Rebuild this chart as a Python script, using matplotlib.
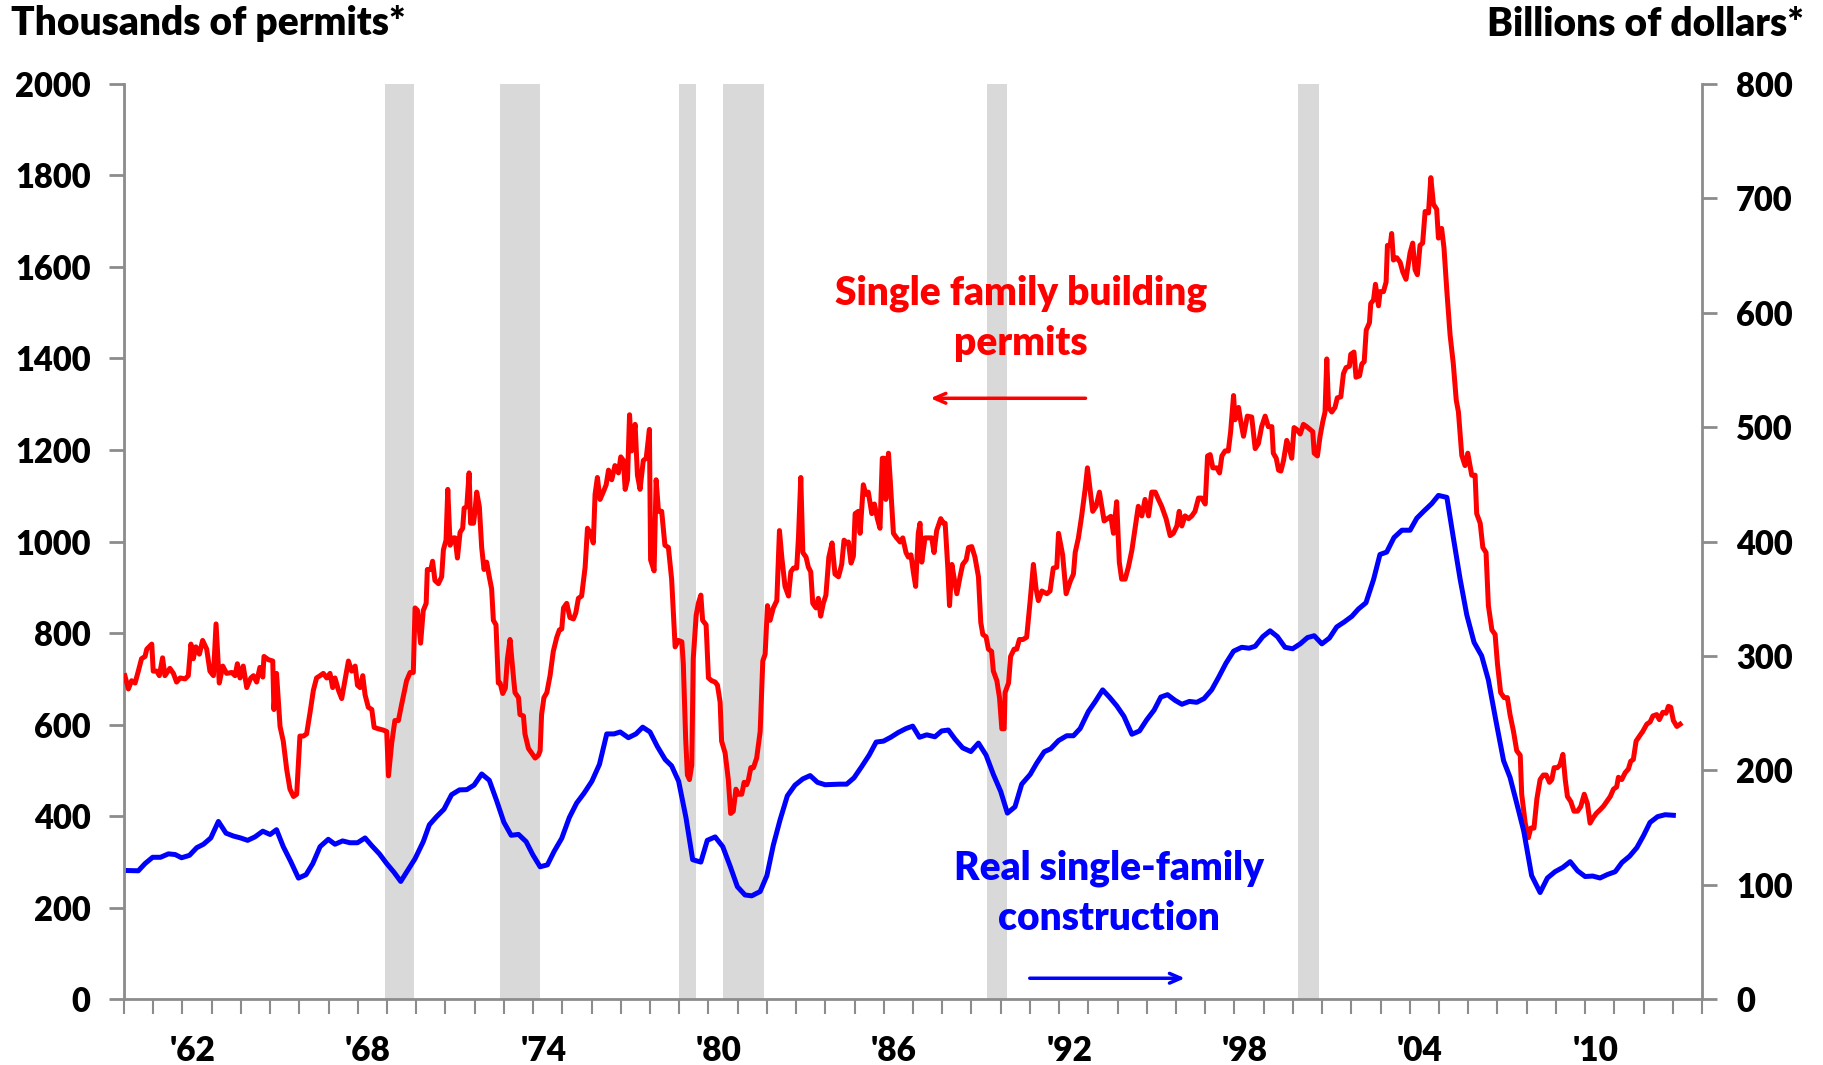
import matplotlib
matplotlib.use("Agg")
import matplotlib.pyplot as plt
import numpy as np

# ---------------- data ----------------
permit_years = [
    1961.03,1961.15,1961.26,1961.38,1961.49,1961.60,1961.72,1961.78,1961.95,1962.00,1962.12,1962.21,1962.32,1962.40,1962.57,1962.69,1962.80,1962.92,1963.09,1963.20,
    1963.29,1963.37,1963.46,1963.58,1963.69,1963.83,1963.94,1964.06,1964.15,1964.26,1964.38,1964.51,1964.69,1964.80,1964.88,1964.97,1965.08,1965.20,1965.34,1965.43,
    1965.54,1965.65,1965.75,1965.79,1965.94,1966.09,1966.13,1966.22,1966.34,1966.45,1966.57,1966.68,1966.80,1966.91,1967.02,1967.14,1967.25,1967.37,1967.48,1967.59,
    1967.71,1967.82,1967.94,1968.05,1968.14,1968.22,1968.34,1968.45,1968.56,1968.68,1968.79,1968.91,1968.99,1969.08,1969.17,1969.25,1969.36,1969.48,1969.56,1969.70,
    1969.88,1969.99,1970.05,1970.16,1970.27,1970.39,1970.50,
    1970.67,1970.79,1970.90,1970.96,1971.04,1971.15,1971.24,1971.34,1971.38,1971.50,1971.56,1971.64,1971.76,1971.87,1971.93,1972.02,1972.08,1972.16,1972.27,1972.33,
    1972.41,1972.50,1972.59,1972.64,1972.73,1972.81,1972.86,1972.96,1973.01,1973.07,1973.16,1973.24,1973.32,1973.41,1973.50,1973.58,1973.64,1973.73,1973.81,1973.87,
    1973.96,1974.05,1974.12,1974.21,1974.33,1974.38,1974.50,1974.55,1974.67,1974.72,1974.84,1974.95,1975.07,1975.18,1975.24,1975.29,1975.37,1975.47,1975.58,1975.69,
    1975.81,1975.90,1975.98,1976.04,1976.15,1976.26,1976.38,1976.46,1976.55,1976.66,1976.78,1976.86,1976.97,1977.06,1977.12,1977.20,1977.29,1977.40,1977.50,1977.58,
    1977.69,1977.80,1977.92,1978.00,1978.09,1978.15,1978.23,1978.30,1978.37,1978.49,1978.57,1978.66,1978.77,1978.87,1978.98,1979.02,1979.14,1979.21,1979.29,1979.40,
    1979.51,1979.63,1979.74,1979.86,1979.97,1980.09,1980.14,1980.22,
    1980.28,1980.35,1980.43,1980.48,1980.58,1980.655,1980.74,1980.80,1980.92,1981.00,1981.11,1981.23,1981.31,1981.40,1981.45,1981.57,1981.68,1981.76,1981.85,1981.94,
    1982.02,1982.14,1982.22,1982.31,1982.37,1982.45,1982.54,1982.65,1982.77,1982.86,1982.94,1983.02,1983.11,1983.22,1983.34,1983.43,1983.51,1983.62,1983.74,1983.82,
    1983.91,1984.02,1984.08,1984.16,1984.23,1984.34,1984.42,1984.50,1984.57,1984.68,1984.76,1984.84,1984.93,1985.02,1985.12,1985.23,1985.33,1985.45,1985.56,1985.64,
    1985.73,1985.79,1985.88,1985.96,1986.02,1986.13,1986.19,1986.30,1986.39,1986.47,1986.59,1986.68,1986.78,1986.87,1986.95,1987.01,1987.07,1987.16,1987.22,1987.33,
    1987.44,1987.56,1987.65,1987.76,1987.84,1987.93,1988.01,1988.09,1988.18,1988.24,1988.30,1988.41,1988.53,1988.64,1988.72,1988.81,1988.95,1989.04,1989.10,1989.19,
    1989.25,1989.33,1989.41,1989.50,1989.61,1989.70,
    1989.82,1989.90,1990.01,1990.12,1990.24,1990.32,1990.39,1990.50,1990.58,1990.69,1990.75,1990.87,1990.96,1991.04,1991.12,1991.15,1991.27,1991.34,1991.46,1991.55,
    1991.64,1991.76,1991.89,1992.01,1992.12,1992.21,1992.29,1992.41,1992.58,1992.69,1992.80,1992.92,1992.98,1993.12,1993.24,1993.38,1993.49,1993.55,1993.66,1993.77,
    1993.89,1993.97,1994.06,1994.15,1994.265,1994.38,1994.46,1994.54,1994.65,1994.77,1994.86,1994.97,1995.06,1995.14,1995.26,1995.37,1995.49,1995.60,1995.71,1995.83,
    1995.94,1996.06,1996.17,1996.29,1996.40,1996.51,1996.66,1996.80,1996.91,1997.03,1997.11,1997.20,1997.31,1997.43,1997.54,1997.65,1997.77,1997.88,1998.00,1998.08,
    1998.17,1998.26,1998.40,1998.49,1998.57,1998.68,1998.79,1998.87,1998.97,1999.02,1999.14,1999.22,1999.31,
    1999.44,1999.59,1999.71,1999.82,1999.93,2000.05,2000.16,2000.28,2000.33,2000.43,2000.51,2000.59,2000.68,2000.79,2000.88,2000.96,2001.04,2001.13,2001.25,2001.36,
    2001.475,2001.59,2001.68,2001.73,2001.84,2001.93,2002.02,2002.10,2002.16,2002.22,2002.33,2002.44,2002.52,2002.64,2002.73,2002.82,2002.935,2002.98,2003.09,2003.16,
    2003.28,2003.36,2003.44,2003.51,2003.62,2003.665,2003.76,2003.825,2003.93,2003.985,2004.10,2004.19,2004.235,2004.33,2004.38,2004.44,2004.555,2004.67,2004.76,2004.87,
    2005.01,2005.10,2005.18,2005.26,2005.35,2005.44,2005.525,2005.64,2005.72,2005.81,2005.92,2005.98,2006.09,2006.17,2006.27,2006.38,2006.49,2006.59,2006.665,2006.78,
    2006.89,2006.985,2007.06,2007.12,2007.235,2007.29,2007.41,2007.50,2007.61,2007.69,2007.81,2007.92,2008.00,2008.11,2008.23,2008.34,2008.43,2008.55,2008.66,
    2008.78,2008.83,2008.95,2009.06,2009.14,2009.25,2009.35,2009.46,2009.57,2009.67,2009.78,2009.86,2009.94,2010.05,2010.14,2010.24,2010.32,2010.395,2010.51,2010.62,
    2010.74,2010.85,2010.97,2011.08,2011.17,2011.26,2011.38,2011.51,2011.63,2011.74,2011.86,2011.97,2012.08,2012.14,2012.255,2012.37,2012.48,2012.56,2012.65,2012.745,
    2012.86,2012.97,2013.11,2013.225,2013.32,2013.45,2013.54,2013.66,2013.77,2013.85,2013.93,2014.02,2014.14,2014.25,
]
permit_values = [
    707,678,696,691,717,744,749,765,776,717,717,707,746,707,723,712,693,702,700,707,
    776,744,770,754,784,765,717,707,820,691,728,712,714,707,733,702,728,681,702,707,
    693,725,704,749,742,739,633,712,596,564,501,459,443,448,575,575,580,628,675,702,
    707,712,702,712,681,702,675,657,696,739,717,728,686,681,707,665,638,633,594,591,
    588,585,488,559,609,609,644,
    696,714,714,855,850,778,849,865,939,939,957,915,908,923,982,1003,1114,992,1008,1008,
    964,1020,1029,1073,1076,1150,1040,1040,1066,1108,1076,987,939,955,923,897,828,818,691,691,
    668,680,744,786,702,670,659,622,619,580,548,538,527,533,543,622,659,670,707,760,
    791,807,809,855,865,834,831,844,876,881,944,1029,1018,997,1103,1140,1092,1108,1124,1156,
    1135,1166,1150,1185,1177,1114,1135,1277,1198,1256,1145,1114,1177,1182,1245,960,936,1135,1066,1066,
    992,987,918,770,784,781,733,570,
    490,480,512,744,839,865,883,828,818,702,696,693,686,649,564,538,480,406,411,459,
    448,448,474,469,480,506,506,527,585,739,754,860,828,855,871,1024,966,902,881,934,
    942,942,1008,1140,976,966,944,934,865,855,876,837,865,883,966,997,929,923,950,1003,
    997,999,953,968,1061,1066,1018,1124,1103,1108,1061,1082,1050,1029,1182,1182,1092,1193,1135,1018,
    1008,999,1008,976,966,971,934,902,1018,1040,955,1008,1008,1008,976,1024,1050,1040,1040,944,
    860,950,919,886,923,950,
    960,987,989,966,923,823,797,792,765,760,717,696,659,591,591,670,691,749,765,765,
    786,786,791,871,950,897,871,892,886,892,942,944,1018,971,886,913,929,976,1008,1055,
    1114,1161,1114,1066,1077,1108,1077,1045,1050,1055,1018,1087,955,918,918,944,981,1029,1077,1056,
    1092,1056,1108,1108,1092,1077,1050,1013,1018,1034,1066,1034,1056,1050,1056,1066,1095,1095,1082,1187,
    1190,1161,1161,1150,1187,1198,1198,1240,1319,1266,1293,1261,1230,
    1274,1272,1203,1214,1251,1274,1251,1251,1193,1182,1156,1154,1177,1221,1203,1182,1249,1245,1235,1256,
    1251,1245,1240,1193,1187,1230,1261,1283,1399,1293,1283,1293,1314,1316,1367,1380,1383,1409,1414,1359,
    1362,1388,1393,1462,1478,1520,1528,1562,1515,1546,1546,1567,1647,1647,1673,1615,1620,1610,1589,1573,
    1631,1652,1594,1583,1647,1652,1721,1718,1795,1737,1726,1663,1684,1642,1546,1451,1388,1309,1283,1188,
    1166,1193,1166,1145,1145,1061,1040,987,976,860,807,797,733,670,659,659,622,585,543,
    533,448,385,353,374,374,438,480,490,490,474,480,506,506,512,535,480,443,432,411,
    411,421,448,427,385,395,406,414,422,432,443,459,464,485,480,495,503,520,524,564,
    575,585,601,606,619,622,611,627,625,640,638,609,596,601,
]

construction_years = [
    1961.15,1961.49,1961.72,1961.98,1962.25,1962.52,1962.75,1962.97,1963.24,1963.49,1963.72,1963.97,1964.23,1964.49,1964.74,1964.99,
    1965.23,1965.48,1965.75,1966.00,1966.22,1966.45,1966.70,1966.97,1967.23,1967.46,1967.71,1967.99,1968.22,1968.48,1968.73,1968.99,
    1969.25,1969.48,1969.74,1969.99,1970.24,1970.47,1970.70,1970.96,1971.24,1971.45,1971.70,1971.95,1972.21,1972.48,1972.73,1972.98,
    1973.24,1973.50,1973.75,1974.00,1974.25,1974.50,1974.76,1974.99,1975.24,1975.49,1975.72,1975.98,1976.24,1976.49,1976.74,1977.01,
    1977.27,1977.52,1977.77,1977.98,1978.26,1978.52,1978.75,1979.00,1979.25,1979.52,1979.74,1979.98,1980.23,1980.46,1980.74,1980.96,
    1981.23,1981.49,1981.74,1981.99,1982.25,1982.48,1982.77,1983.00,1983.22,1983.45,1983.70,1983.96,1984.23,1984.48,1984.73,1984.99,
    1985.25,1985.50,1985.73,1985.98,1986.25,1986.50,1986.74,1986.99,1987.24,1987.50,1987.76,1987.99,1988.22,1988.47,1988.75,1988.98,
    1989.21,1989.44,1989.70,1989.98,1990.24,1990.50,1990.75,1991.00,1991.23,1991.49,1991.72,1992.01,1992.23,1992.49,1992.71,1992.98,
    1993.26,1993.49,1993.72,1994.00,1994.23,1994.49,1994.72,1994.97,1995.22,1995.49,1995.75,1996.00,1996.25,1996.48,1996.71,1996.97,
    1997.20,1997.46,1997.71,1997.96,1998.22,1998.45,1998.71,1998.97,1999.25,1999.50,1999.71,1999.97,2000.22,2000.47,2000.73,2000.99,
    2001.25,2001.50,2001.73,2001.99,2002.25,2002.50,2002.75,2003.02,2003.24,2003.50,2003.76,2003.98,2004.21,2004.46,2004.73,2005.01,
    2005.24,2005.49,2005.75,2005.98,2006.27,2006.49,2006.72,2006.95,2007.20,2007.46,2007.69,2007.95,2008.21,2008.43,2008.66,2008.90,
    2009.17,2009.46,2009.71,2009.97,2010.24,2010.49,2010.74,2011.00,2011.26,2011.51,2011.76,2012.03,2012.26,2012.52,2012.77,2013.00,
    2013.22,2013.48,2013.74,2014.02,
]
construction_values = [
    112.5,112.3,118.6,124.1,124.1,127.1,126.5,123.7,125.8,132.5,135.5,141.0,155.4,145.2,142.7,141.0,
    138.9,141.9,146.9,144.0,148.2,133.4,120.7,105.9,108.9,118.6,133.4,139.8,135.5,138.4,136.8,136.8,
    141.0,134.2,127.1,118.6,111.0,103.0,112.3,122.9,137.7,152.5,159.7,166.1,178.8,183.0,183.2,187.2,
    196.9,191.4,173.7,154.7,143.3,144.1,137.8,126.3,115.8,117.5,129.3,140.7,158.9,171.5,180.0,190.5,
    205.3,231.9,231.9,233.6,228.6,231.9,237.8,233.6,221.0,209.5,204.0,190.5,158.9,122.0,119.9,138.9,
    141.9,133.4,116.5,98.4,91.2,90.4,94.2,108.1,134.7,156.7,177.8,187.1,192.6,195.5,189.6,187.5,
    187.8,188.0,188.0,193.5,203.6,213.4,224.8,225.6,229.0,233.2,236.6,238.7,229.0,231.1,229.4,234.5,
    235.3,227.3,219.7,216.5,223.9,213.4,196.5,181.7,162.7,168.2,188.0,196.5,206.2,216.3,218.9,226.1,
    230.3,230.3,236.6,251.4,259.9,270.4,264.1,256.5,247.2,231.6,234.5,244.3,252.7,264.1,266.2,261.2,
    257.8,260.3,259.5,262.8,270.4,281.0,293.7,304.2,307.6,306.8,308.5,316.9,322.0,316.9,307.6,306.3,
    310.6,316.1,317.7,310.6,315.7,325.4,329.6,334.7,341.0,346.5,366.8,388.7,390.8,403.5,409.9,409.9,
    420.4,426.8,433.1,440.3,438.6,403.5,367.6,336.0,311.9,300.1,279.0,243.1,208.5,194.0,171.3,147.0,
    108.1,93.3,106.0,111.5,115.3,120.3,112.3,107.3,107.7,106.0,109.0,111.5,119.5,125.0,132.5,143.1,
    154.5,159.6,161.3,160.8,
]

recession_starts = [1960.33, 1969.92, 1973.87, 1980.00, 1981.50, 1990.54, 2001.17]
recession_ends   = [1961.08, 1970.92, 1975.22, 1980.58, 1982.90, 1991.22, 2001.90]

year_tick_labels = ["'62", "'68", "'74", "'80", "'86", "'92", "'98", "'04", "'10"]
year_tick_years = [1962, 1968, 1974, 1980, 1986, 1992, 1998, 2004, 2010]

left_ticks = list(range(0, 2001, 200))
right_ticks = list(range(0, 801, 100))

# ---------------- styling ----------------
FONT = ["Lato", "DejaVu Sans"]
WEIGHT = "heavy"
RED = "#ff0000"
BLUE = "#0000ff"
AXC = "#8c8c8c"
SHADE = "#d9d9d9"

plt.rcParams["font.family"] = FONT

W, H = 1824, 1065
fig = plt.figure(figsize=(W / 100, H / 100), dpi=100)
ax = fig.add_axes([124 / W, 1 - 999.3 / H, (1702 - 124) / W, (999.3 - 83.8) / H])
ax2 = ax.twinx()

for s, e in zip(recession_starts, recession_ends):
    ax.axvspan(s, e, color=SHADE, lw=0, zorder=0)

ax.plot(permit_years, permit_values, color=RED, lw=3.6, solid_joinstyle="round", zorder=3)
ax2.plot(construction_years, construction_values, color=BLUE, lw=3.6, solid_joinstyle="round", zorder=3)

ax.set_xlim(1961, 2015)
ax.set_ylim(0, 2000)
ax2.set_ylim(0, 800)

for a in (ax, ax2):
    for sp in a.spines.values():
        sp.set_color(AXC)
        sp.set_linewidth(2)
    a.spines["top"].set_visible(False)
ax.spines["right"].set_visible(False)
ax2.spines["left"].set_visible(False)
ax2.spines["bottom"].set_visible(False)

ax.set_yticks(left_ticks)
ax.set_yticklabels([str(v) for v in left_ticks], fontsize=23.5, fontweight=WEIGHT, family=FONT)
ax.tick_params(axis="y", direction="out", length=11, width=2, color=AXC, pad=13)
ax2.set_yticks(right_ticks)
ax2.set_yticklabels([str(v) for v in right_ticks], fontsize=23.5, fontweight=WEIGHT, family=FONT)
ax2.tick_params(axis="y", direction="out", length=11, width=2, color=AXC, pad=13.5)

# yearly tick marks, labels offset between marks
ax.set_xticks(np.arange(1961, 2016))
ax.set_xticklabels([])
ax.tick_params(axis="x", which="major", direction="out", length=11, width=1.5, color=AXC)
ax.set_xticks([y + 1.35 for y in year_tick_years], minor=True)
ax.set_xticklabels(year_tick_labels, minor=True, fontsize=24, fontweight=WEIGHT, family=FONT)
ax.tick_params(axis="x", which="minor", length=0, pad=26)

# titles
fig.text(11 / W, 1 - 24 / H, "Thousands of permits*", ha="left", va="center",
         fontsize=28, fontweight=WEIGHT)
fig.text(1804 / W, 1 - 24 / H, "Billions of dollars*", ha="right", va="center",
         fontsize=28, fontweight=WEIGHT)

# annotations
ax.text(1991.7, 1488, "Single family building\npermits", color=RED, ha="center", va="center",
        fontsize=28, fontweight=WEIGHT, linespacing=1.45)
ax.annotate("", xy=(1988.5, 1313), xytext=(1994.0, 1313),
            arrowprops=dict(arrowstyle="->,head_length=0.8,head_width=0.35", color=RED, lw=2.5))
ax.text(1994.7, 232, "Real single-family\nconstruction", color=BLUE, ha="center", va="center",
        fontsize=28, fontweight=WEIGHT, linespacing=1.45)
ax.annotate("", xy=(1997.4, 46), xytext=(1991.9, 46),
            arrowprops=dict(arrowstyle="->,head_length=0.8,head_width=0.35", color=BLUE, lw=2.5))

fig.savefig("out.png", dpi=100)
